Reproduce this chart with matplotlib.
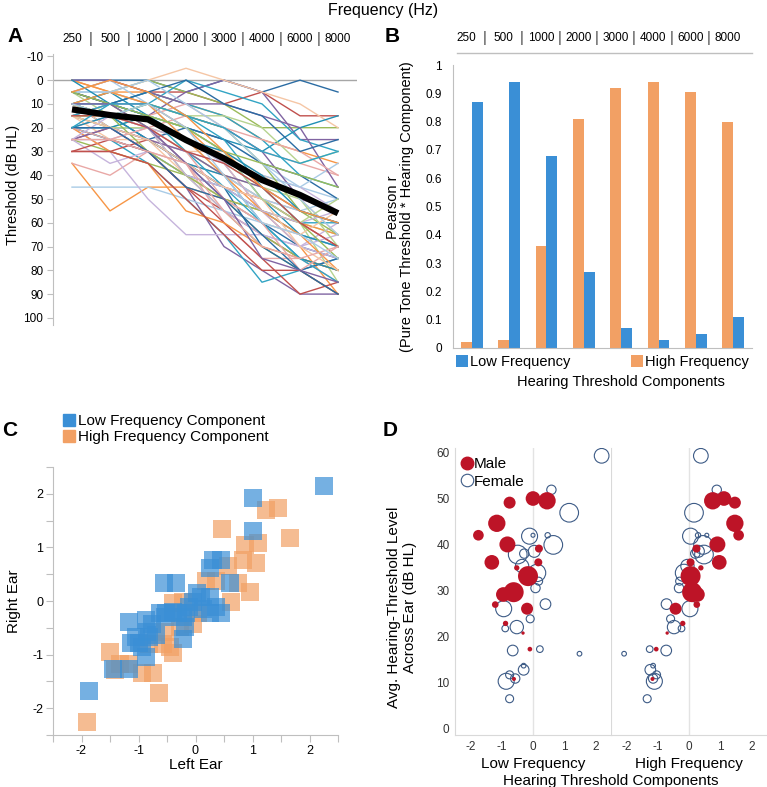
import matplotlib
matplotlib.use('Agg')
import matplotlib.pyplot as plt
from matplotlib.lines import Line2D

plt.rcParams['font.family'] = ['Liberation Sans', 'DejaVu Sans']
plt.rcParams['axes.unicode_minus'] = False

# ---------------- data ----------------
freqs = ['250', '500', '1000', '2000', '3000', '4000', '6000', '8000']

# Panel A: individual audiograms (dB HL), right ear
thresholds = [
    [0, 0, 0, 5, 0, 5, 0, 5],
    [5, 0, 5, 5, 10, 5, 15, 15],
    [10, 5, 0, 5, 10, 20, 20, 20],
    [5, 10, 15, 5, 0, 5, 25, 25],
    [10, 15, 10, 0, 5, 10, 25, 30],
    [0, 5, 5, 10, 15, 25, 30, 35],
    [15, 10, 20, 15, 20, 30, 35, 40],
    [5, 0, 10, 20, 25, 35, 45, 50],
    [20, 15, 25, 30, 35, 40, 45, 55],
    [10, 15, 20, 25, 30, 45, 55, 60],
    [15, 20, 15, 30, 40, 50, 60, 65],
    [20, 25, 30, 40, 45, 55, 65, 70],
    [10, 20, 20, 35, 50, 60, 70, 75],
    [25, 20, 30, 45, 55, 65, 75, 80],
    [5, 10, 20, 40, 55, 70, 80, 90],
    [15, 20, 30, 45, 70, 80, 90, 90],
    [20, 25, 35, 50, 65, 85, 80, 75],
    [35, 55, 45, 45, 50, 55, 60, 65],
    [35, 40, 30, 35, 40, 50, 55, 60],
    [45, 45, 45, 50, 55, 60, 65, 70],
    [20, 30, 50, 65, 65, 65, 70, 75],
    [10, 5, 0, -5, 0, 5, 10, 20],
    [15, 15, 20, 25, 35, 45, 60, 85],
    [10, 5, 15, 20, 25, 30, 20, 15],
    [20, 20, 25, 20, 25, 35, 40, 50],
    [30, 30, 25, 35, 45, 50, 60, 70],
    [25, 30, 35, 40, 50, 65, 75, 80],
    [5, 10, 10, 15, 20, 30, 50, 55],
    [15, 10, 5, 10, 15, 25, 40, 45],
    [0, 5, 10, 20, 35, 55, 70, 90],
    [20, 15, 20, 35, 60, 75, 75, 85],
    [10, 10, 15, 25, 35, 40, 45, 35],
    [25, 35, 30, 40, 55, 65, 70, 60],
    [15, 25, 25, 30, 30, 40, 50, 65],
    [5, 15, 10, 15, 15, 20, 35, 30],
    [20, 20, 15, 20, 30, 50, 65, 70],
    [10, 15, 25, 35, 45, 70, 80, 75],
    [30, 25, 30, 45, 60, 75, 90, 85],
    [15, 15, 10, 15, 20, 35, 55, 65],
    [0, 0, 5, 10, 10, 15, 20, 45],
    [10, 10, 5, 15, 25, 45, 60, 60],
    [20, 30, 35, 55, 60, 70, 75, 80],
    [15, 10, 15, 10, 20, 25, 30, 40],
    [5, 5, 10, 25, 40, 50, 55, 50],
    [25, 25, 20, 25, 35, 55, 70, 65],
    [10, 20, 25, 40, 50, 60, 65, 55],
    [15, 20, 20, 30, 40, 45, 50, 70],
    [20, 15, 25, 35, 40, 60, 75, 80],
    [5, 10, 5, 0, 10, 15, 30, 25],
    [30, 30, 35, 50, 65, 80, 80, 90],
    [10, 15, 30, 40, 50, 55, 60, 75],
    [25, 20, 25, 30, 40, 45, 55, 60],
    [15, 10, 15, 30, 45, 60, 75, 85],
    [10, 5, 10, 25, 40, 55, 65, 80],
    [20, 25, 20, 30, 50, 60, 80, 70],
    [5, 5, 0, 10, 20, 35, 50, 65],
    [25, 15, 20, 40, 45, 55, 60, 55],
    [15, 20, 25, 35, 45, 50, 70, 80],
    [10, 15, 15, 20, 30, 50, 60, 50],
    [0, 10, 15, 25, 30, 40, 55, 60],
    [20, 20, 30, 45, 50, 65, 80, 90],
    [15, 15, 20, 30, 35, 45, 60, 70],
    [5, 10, 15, 20, 30, 35, 40, 45],
    [10, 10, 20, 35, 50, 75, 80, 85],
    [20, 10, 10, 15, 20, 30, 35, 30],
    [5, 0, 5, 15, 30, 45, 55, 60],
    [25, 25, 30, 35, 55, 70, 75, 70],
    [10, 15, 10, 20, 40, 60, 65, 75],
]
mean_threshold = [12.3, 14.7, 16.5, 25.2, 32.9, 42.0, 48.3, 56.0]
line_colors = ['#2b6ca3', '#c0504d', '#9bbb59', '#8064a2', '#31a4c4', '#f79646',
               '#e9a8a6', '#a9cbe6', '#c6b4dc', '#f5c6a5', '#b6d38f', '#1f8fb5']

# Panel B: Pearson r per frequency
r_low = [0.87, 0.94, 0.68, 0.27, 0.07, 0.03, 0.05, 0.11]
r_high = [0.02, 0.03, 0.36, 0.81, 0.92, 0.94, 0.905, 0.80]

# Panel C: component scores, left vs right ear
low_left = [2.25, 1.01, 1.00, -1.86, -0.56, -0.34, 0.25, 0.30, 0.45, 0.60, -1.16, -0.86,
            -1.14, -0.99, -0.85, -0.77, -0.86, -1.45, -1.16, -0.51, -0.40, -0.16, -0.19,
            -0.22, 0.10, 0.25, 0.13, 0.36, 0.45, 0.25, -0.31, -0.63, -1.04, -0.69, -0.54,
            -0.05, -0.93, -0.81, 0.02, -0.22, -0.11]
low_right = [2.14, 1.92, 1.30, -1.68, 0.34, 0.33, 0.61, 0.77, 0.77, 0.33, -0.39, -0.36,
             -0.79, -0.79, -0.57, -0.42, -1.04, -1.26, -1.26, -0.23, -0.20, -0.23, -0.48,
             -0.70, 0.08, 0.08, -0.14, -0.11, -0.23, -0.23, -0.23, -0.23, -0.67, -0.64,
             -0.30, -0.01, -0.85, -0.67, 0.14, -0.29, -0.11]
high_left = [-1.91, -0.64, -1.50, -1.42, -0.93, -0.75, -0.40, -0.45, -0.39, 0.46, 1.24,
             1.45, 1.65, 0.86, 1.10, 0.83, 1.07, 0.95, 0.75, 0.63, 0.57, 0.19, 0.36,
             -0.22, -0.05, 0.04, -0.28, -0.54, -0.57, -1.16, -0.81, -1.33]
high_right = [-2.26, -1.71, -0.95, -1.29, -1.34, -1.34, -0.97, -0.86, -0.04, 1.35, 1.70,
              1.74, 1.18, 1.05, 1.08, 0.77, 0.71, 0.17, 0.33, -0.01, 0.65, 0.38, 0.38,
              -0.01, -0.42, -0.23, -0.48, -0.57, -0.81, -1.17, -0.80, -1.17]

# Panel D: average threshold vs component score, bubble = relative size
male_y = [50.0, 49.5, 49.1, 44.6, 42.0, 40.0, 39.1, 36.1, 36.1, 34.9, 33.1, 29.6, 29.1,
          26.9, 26.0, 22.8, 20.7, 17.2, 10.7]
male_low = [0.0, 0.45, -0.75, -1.16, -1.75, -0.82, 0.19, -1.32, 0.17, -0.52, -0.16, -0.62,
            -0.95, -1.21, -0.19, -0.88, -0.32, -0.10, -0.61]
male_high = [1.12, 0.76, 1.47, 1.47, 1.59, 0.91, 0.24, 0.97, 0.05, 0.38, 0.05, 0.10, 0.27,
             0.25, -0.43, -0.20, -0.70, -1.05, -1.17]
male_bubble = [22, 26, 18, 26, 16, 24, 12, 22, 12, 8, 30, 30, 22, 10, 18, 8, 5, 7, 6]
female_y = [59.3, 51.9, 46.9, 41.8, 42.0, 42.0, 39.9, 37.8, 38.0, 38.5, 35.3, 33.8, 32.0,
            30.5, 27.0, 26.0, 23.8, 21.7, 22.0, 16.9, 17.2, 16.2, 12.7, 13.6, 10.2, 11.6,
            10.8, 6.4]
female_low = [2.20, 0.59, 1.16, -0.11, 0.0, 0.47, 0.65, -0.49, -0.28, 0.04, -0.35, 0.13,
              0.18, 0.08, 0.40, -0.94, -0.09, -0.89, -0.52, -0.65, 0.22, 1.49, -0.30,
              -0.30, -0.86, -0.75, -0.57, -0.75]
female_high = [0.38, 0.89, 0.16, 0.05, 0.57, 0.29, 0.45, 0.48, 0.20, 0.30, -0.05, -0.16,
               -0.30, -0.32, -0.72, 0.03, -0.59, -0.24, -0.48, -0.73, -1.26, -2.08, -1.24,
               -1.15, -1.11, -1.04, -1.15, -1.34]
female_bubble = [22, 14, 28, 24, 6, 8, 28, 28, 14, 18, 20, 26, 12, 14, 16, 24, 12, 10, 20,
                 16, 10, 7, 16, 7, 24, 12, 14, 12]

BLUE = '#3a8fd6'
ORANGE = '#f2a064'
RED = '#bd1427'
NAVY = '#3d5b86'
GRID = '#d9d9d9'

W, H = 767, 787
fig = plt.figure(figsize=(W / 100, H / 100), dpi=100)


def box(x0, y0, x1, y1):
    # pixel box (top-left origin) -> figure fraction
    return [x0 / W, 1 - y1 / H, (x1 - x0) / W, (y1 - y0) / H]


def header(ax, y, xs_offset=0.0):
    for i, f in enumerate(freqs):
        ax.text(i + xs_offset, y, f, transform=ax.get_xaxis_transform(), ha='center',
                va='center', fontsize=8.5, clip_on=False)
        if i < len(freqs) - 1:
            ax.text(i + 0.5 + xs_offset, y, '|', transform=ax.get_xaxis_transform(),
                    ha='center', va='center', fontsize=10, color='#7f7f7f',
                    fontweight='bold', clip_on=False)


x = list(range(len(freqs)))

# ---------------- Panel A ----------------
axA = fig.add_axes(box(53, 54, 357, 325))
for k, row in enumerate(thresholds):
    axA.plot(x, row, color=line_colors[k % len(line_colors)], lw=1.0)
axA.plot(x, mean_threshold, color='black', lw=4.5, solid_capstyle='butt', zorder=5)
axA.axhline(0, color='#a6a6a6', lw=1, zorder=0)
axA.set_xlim(-0.5, 7.5)
axA.set_ylim(103, -11)
axA.set_yticks(range(-10, 101, 10))
axA.set_xticks([])
for s in ['top', 'right', 'bottom']:
    axA.spines[s].set_visible(False)
axA.spines['left'].set_color('#bfbfbf')
axA.tick_params(axis='y', length=4, color='#bfbfbf', labelsize=8.5, pad=3)
header(axA, 1.055)
fig.text(13 / W, 1 - 185 / H, 'Threshold (dB HL)', rotation=90, ha='center',
         va='center', fontsize=10.5)

# ---------------- Panel B ----------------
axB = fig.add_axes(box(453, 65, 752, 348))
bw = 0.29
axB.bar([i - bw / 2 for i in x], r_high, width=bw, color=ORANGE, label='High Frequency')
axB.bar([i + bw / 2 for i in x], r_low, width=bw, color=BLUE, label='Low Frequency')
axB.set_xlim(-0.5, 7.5)
axB.set_ylim(0, 1)
axB.set_yticks([0, 0.1, 0.2, 0.3, 0.4, 0.5, 0.6, 0.7, 0.8, 0.9, 1])
axB.set_yticklabels(['0', '0.1', '0.2', '0.3', '0.4', '0.5', '0.6', '0.7', '0.8',
                     '0.9', '1'])
axB.set_xticks([])
for s in ['top', 'right']:
    axB.spines[s].set_visible(False)
axB.spines['left'].set_color('#bfbfbf')
axB.spines['bottom'].set_color('#bfbfbf')
axB.tick_params(axis='y', length=0, labelsize=8.5, pad=8)
header(axB, 1.095, xs_offset=-0.15)
axB.plot([0.013, 1.0], [1.042, 1.042], transform=axB.transAxes, color='#bfbfbf',
         lw=1, clip_on=False)
hB, lB = axB.get_legend_handles_labels()
axB.legend([hB[1], hB[0]], [lB[1], lB[0]], ncol=2, loc='upper center',
           bbox_to_anchor=(0.5, 0.0), frameon=False, fontsize=10.5,
           handlelength=0.8, handleheight=0.9, handletextpad=0.15,
           columnspacing=4.2, borderaxespad=0.1)
axB.text(0.56, -0.12, 'Hearing Threshold Components', transform=axB.transAxes,
         ha='center', va='center', fontsize=10.5)
fig.text(400 / W, 1 - 207 / H, 'Pearson r\n(Pure Tone Threshold * Hearing Component)',
         rotation=90, ha='center', va='center', fontsize=10.5, linespacing=1.05)

# ---------------- Panel C ----------------
axC = fig.add_axes(box(53, 467, 338, 735))
axC.scatter(high_left, high_right, marker='s', s=150, color=ORANGE, alpha=0.7,
            linewidths=0)
axC.scatter(low_left, low_right, marker='s', s=150, color=BLUE, alpha=0.7,
            linewidths=0)
axC.set_xlim(-2.5, 2.5)
axC.set_ylim(-2.5, 2.5)
ticks = [-2.5 + 0.5 * i for i in range(11)]
axC.set_xticks(ticks)
axC.set_yticks(ticks)
axC.set_xticklabels([str(int(t)) if t == int(t) else '' for t in ticks])
axC.set_yticklabels([str(int(t)) if t == int(t) else '' for t in ticks])
for s in ['top', 'right']:
    axC.spines[s].set_visible(False)
axC.spines['left'].set_color('#bfbfbf')
axC.spines['bottom'].set_color('#bfbfbf')
axC.tick_params(length=5, color='#bfbfbf', labelsize=9, pad=2)
axC.set_xlabel('Left Ear', fontsize=11, labelpad=1)
axC.set_ylabel('Right Ear', fontsize=11, labelpad=8)
handlesC = [Line2D([], [], marker='s', ls='', color='#3a8fd6', markersize=8),
            Line2D([], [], marker='s', ls='', color='#f2a064', markersize=8)]
fig.legend(handlesC, ['Low Frequency Component', 'High Frequency Component'],
           loc='upper left', bbox_to_anchor=(64 / W, 1 - 414 / H), frameon=False,
           fontsize=11, handlelength=0.7, handletextpad=0.2, labelspacing=0.15,
           borderaxespad=0, borderpad=0)

# ---------------- Panel D ----------------
axL = fig.add_axes(box(455, 448, 611, 735))
axR = fig.add_axes(box(611, 448, 767, 735))


def sz(b):
    return [(0.48 * v) ** 2 for v in b]


for ax, fx, mx, title in [(axL, female_low, male_low, 'Low Frequency'),
                          (axR, female_high, male_high, 'High Frequency')]:
    ax.axvline(0, color='#e3e3e3', lw=1, zorder=0)
    ax.scatter(fx, female_y, s=sz(female_bubble), facecolors='none', edgecolors=NAVY,
               linewidths=0.8, zorder=3)
    ax.scatter(mx, male_y, s=sz(male_bubble), color=RED, linewidths=0, zorder=4)
    ax.set_xlim(-2.5, 2.5)
    ax.set_ylim(-1.5, 61)
    ax.set_xticks([-2, -1, 0, 1, 2])
    ax.set_yticks(range(0, 61, 10))
    for s in ['top', 'right']:
        ax.spines[s].set_visible(False)
    ax.spines['left'].set_color(GRID)
    ax.spines['bottom'].set_color(GRID)
    ax.tick_params(length=0, labelsize=8.5, labelcolor='#333333', pad=4)
    ax.text(0.5, -0.1, title, transform=ax.transAxes, ha='center', va='center',
            fontsize=11)
axR.tick_params(axis='y', labelleft=False)
axR.set_zorder(-1)
axL.text(1.0, -0.162, 'Hearing Threshold Components', transform=axL.transAxes,
         ha='center', va='center', fontsize=11)
handlesD = [Line2D([], [], marker='o', ls='', color=RED, markersize=9),
            Line2D([], [], marker='o', ls='', markerfacecolor='none',
                   markeredgecolor=NAVY, markeredgewidth=0.8, markersize=9)]
axL.legend(handlesD, ['Male', 'Female'], loc='upper left', bbox_to_anchor=(0.02, 0.985),
           frameon=False, fontsize=11, handlelength=0.6, handletextpad=0.15,
           labelspacing=0.25, borderaxespad=0.2, borderpad=0.1)
fig.text(402 / W, 1 - 607 / H, 'Avg. Hearing-Threshold Level\nAcross Ear (dB HL)',
         rotation=90, ha='center', va='center', fontsize=11, linespacing=1.1)

# ---------------- labels ----------------
fig.text(383 / W, 1 - 10 / H, 'Frequency (Hz)', ha='center', va='center', fontsize=11.5)
for lab, px, py in [('A', 15, 36), ('B', 392, 36), ('C', 10, 430), ('D', 390, 430)]:
    fig.text(px / W, 1 - py / H, lab, ha='center', va='center', fontsize=15,
             fontweight='bold')

fig.savefig('out.png', dpi=100)
